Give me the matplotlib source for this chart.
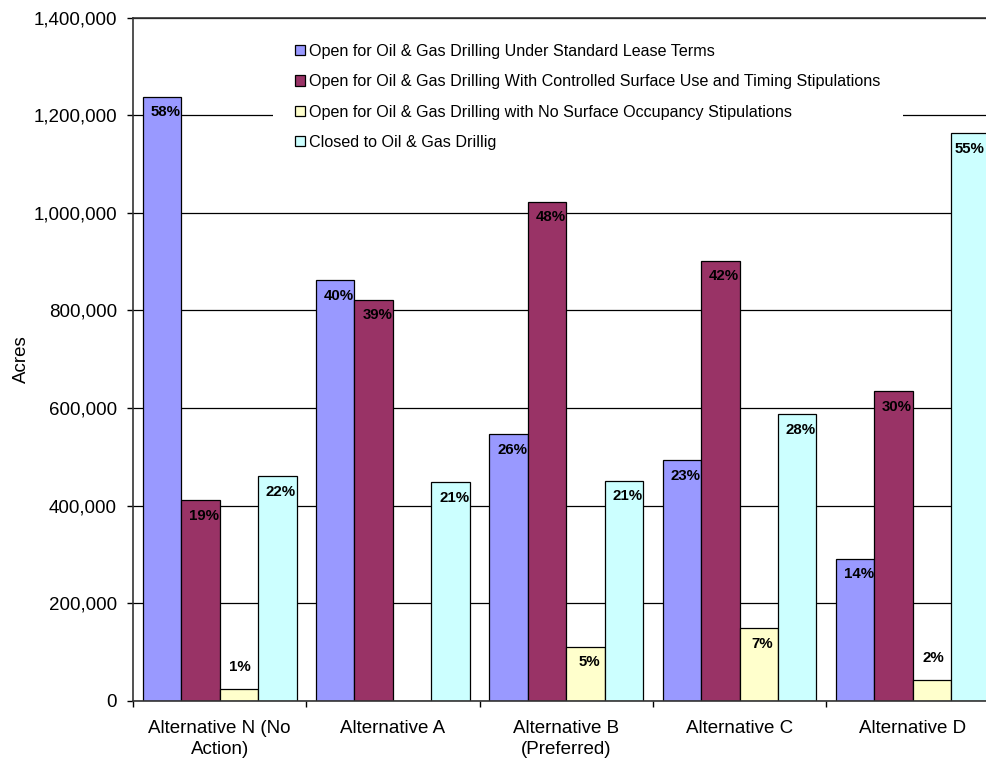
import numpy as np
import matplotlib
matplotlib.use("Agg")
import matplotlib.pyplot as plt
from matplotlib.ticker import FuncFormatter, MultipleLocator

plt.rcParams["font.family"] = ["Liberation Sans", "DejaVu Sans"]

# -----------------------------------------------------------------------------
# Data (acres per alternative)
# -----------------------------------------------------------------------------
alternatives = ["Alternative N (No\nAction)", "Alternative A", "Alternative B\n(Preferred)",
                "Alternative C", "Alternative D"]

series_names = [
    "Open for Oil & Gas Drilling Under Standard Lease Terms",
    "Open for Oil & Gas Drilling With Controlled Surface Use and Timing Stipulations",
    "Open for Oil & Gas Drilling with No Surface Occupancy Stipulations",
    "Closed to Oil & Gas Drillig",
]

standard   = [1238000, 862000, 546000, 493000, 291000]
controlled = [411000, 822000, 1023000, 902000, 635000]
no_surface = [24000, 0, 111000, 149000, 43000]
closed     = [461000, 448000, 451000, 587000, 1163000]

standard_pct   = ["58%", "40%", "26%", "23%", "14%"]
controlled_pct = ["19%", "39%", "48%", "42%", "30%"]
no_surface_pct = ["1%", None, "5%", "7%", "2%"]
closed_pct     = ["22%", "21%", "21%", "28%", "55%"]

colors = ["#9999FF", "#993366", "#FFFFCC", "#CCFFFF"]

# -----------------------------------------------------------------------------
# Figure
# -----------------------------------------------------------------------------
W, H = 987, 759
fig = plt.figure(figsize=(W / 100, H / 100), dpi=100)
# plot area runs a little past the right edge of the image (as in the original)
ax = fig.add_axes([133 / W, 1 - 700.7 / H, 866.5 / W, 683 / H])

values = [standard, controlled, no_surface, closed]
labels = [standard_pct, controlled_pct, no_surface_pct, closed_pct]
x = np.arange(len(alternatives))
w = 0.222

for i, (vals, pcts) in enumerate(zip(values, labels)):
    xs = x + (i - 1.5) * w
    ax.bar(xs, vals, width=w, color=colors[i], edgecolor="black",
           linewidth=0.9, label=series_names[i], zorder=2)
    for xi, v, p in zip(xs, vals, pcts):
        if p is None:
            continue
        dx = 2.5 if xi < 4.3 else -1   # keep the last label inside the image
        if v < 60000:   # too small to hold the label -> put it on top
            ax.annotate(p, (xi, v), xytext=(1, 10.5), textcoords="offset points",
                        ha="center", va="bottom", fontsize=10.8,
                        fontweight="bold", zorder=3)
        else:
            ax.annotate(p, (xi, v), xytext=(dx, -6.3), textcoords="offset points",
                        ha="center", va="top", fontsize=10.8,
                        fontweight="bold", zorder=3)

ax.set_xlim(-0.5, len(alternatives) - 0.5)
ax.set_ylim(0, 1400000)
ax.yaxis.set_major_locator(MultipleLocator(200000))
ax.yaxis.set_major_formatter(FuncFormatter(lambda v, _: f"{int(v):,}"))
ax.yaxis.grid(True, color="black", linewidth=0.9)
ax.set_axisbelow(True)

ax.set_xticks(x)
ax.set_xticklabels(alternatives, fontsize=13.5, linespacing=1.31)
ax.set_xticks(np.arange(len(alternatives) + 1) - 0.5, minor=True)
ax.tick_params(axis="x", which="major", length=0, pad=14)
ax.tick_params(axis="x", which="minor", length=4.3, width=1, direction="out")
ax.tick_params(axis="y", length=4.3, width=1, direction="out", pad=7.2,
               labelsize=13.5)

for side in ["left", "bottom", "top"]:
    ax.spines[side].set_color("#333333")
    ax.spines[side].set_linewidth(1.2)
ax.spines["right"].set_visible(False)

ax.set_ylabel("Acres", fontsize=13.5)
ax.yaxis.set_label_coords(-0.1188, 0.5)

leg = ax.legend(loc="upper left", bbox_to_anchor=(273 / W, 1 - 22 / H),
                bbox_transform=fig.transFigure, fontsize=11.6,
                frameon=True, fancybox=False, framealpha=1,
                facecolor="white", edgecolor="none", borderpad=1.36,
                borderaxespad=0, handlelength=0.6, handleheight=0.6,
                handletextpad=0.3, labelspacing=0.95)
leg.set_zorder(5)

fig.savefig("out.png", dpi=100)
